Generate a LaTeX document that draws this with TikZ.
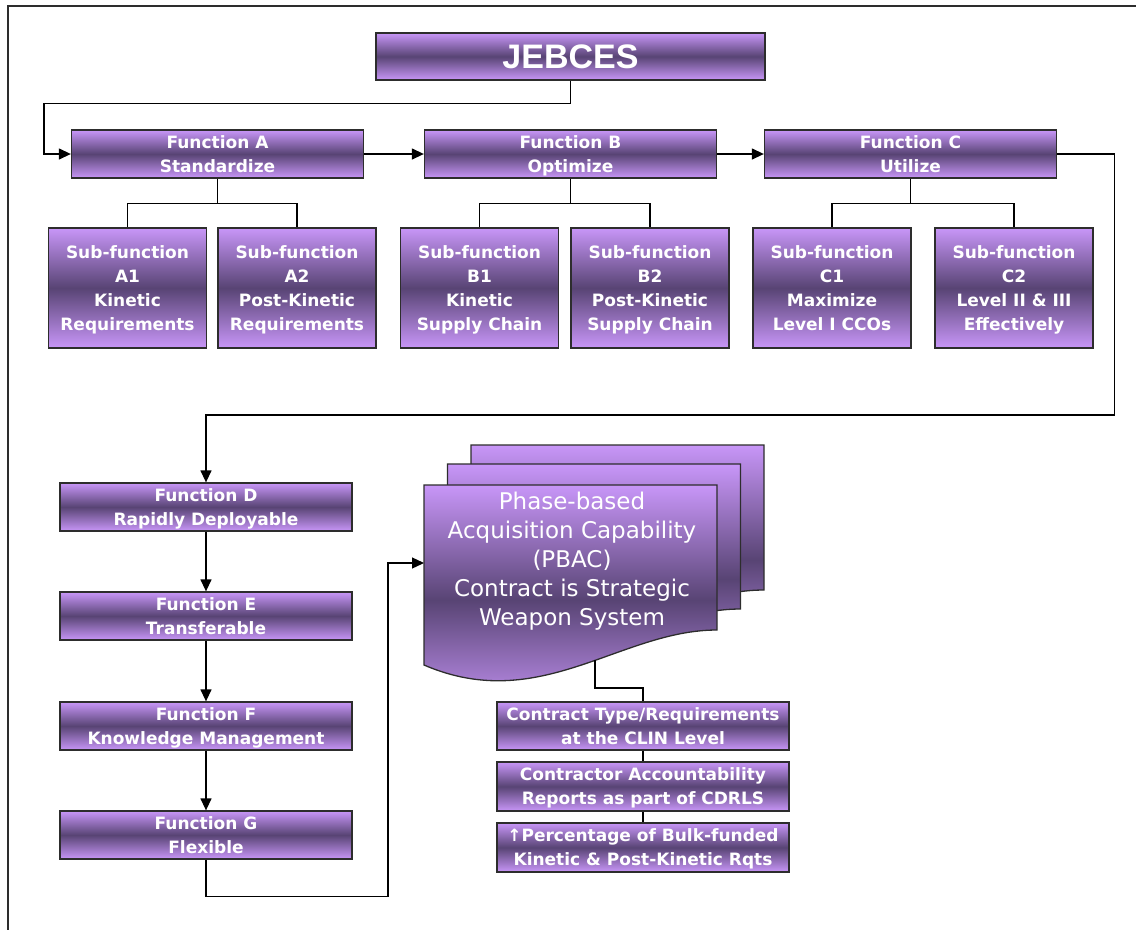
\documentclass[tikz,border=0pt]{standalone}
\usepackage{fontspec}
\newfontfamily\boxfont{DejaVu Sans}
\newfontfamily\headfont{Liberation Sans}
\usetikzlibrary{arrows.meta}
\definecolor{lav}{RGB}{200,150,248}
\definecolor{plum}{RGB}{88,68,116}
\definecolor{edge}{RGB}{45,45,45}

\begin{document}
\begin{tikzpicture}[x=1pt,y=-1pt,
  purplefill/.style={top color=lav,bottom color=lav,middle color=plum},
  fbox/.style={draw=edge,line width=1.3pt,purplefill,rectangle,inner sep=0pt,
    align=center,text=white,text depth=0pt,
    font=\boxfont\bfseries\fontsize{17}{24}\selectfont},
  funcbox/.style={fbox,minimum width=292pt,minimum height=48pt},
  subbox/.style={fbox,minimum width=158pt,minimum height=120pt},
  itembox/.style={fbox,minimum width=292pt,minimum height=48pt},
  titlebox/.style={fbox,minimum width=389pt,minimum height=47pt,
    font=\headfont\bfseries\fontsize{34}{40}\selectfont},
  link/.style={draw=black,line width=1.3pt},
  flow/.style={link,-{Triangle[length=12pt,width=11pt]}},
  docshape/.style={draw=edge,line width=1.3pt,purplefill}
]
\useasboundingbox (0,0) rectangle (1136,930);

% outer frame (top and left edges)
\draw[edge,line width=1.3pt] (1136,6) -- (8,6) -- (8,930);

% title
\node[titlebox] (jeb) at (570.5,56.5) {JEBCES};

% main functions
\node[funcbox] (fa) at (217.5,154) {Function A\\Standardize};
\node[funcbox] (fb) at (570.5,154) {Function B\\Optimize};
\node[funcbox] (fc) at (910.5,154) {Function C\\Utilize};

% sub-functions
\node[subbox] (a1) at (127.5,288) {Sub-function\\A1\\Kinetic\\Requirements};
\node[subbox] (a2) at (297,288) {Sub-function\\A2\\Post-Kinetic\\Requirements};
\node[subbox] (b1) at (479.5,288) {Sub-function\\B1\\Kinetic\\Supply Chain};
\node[subbox] (b2) at (650,288) {Sub-function\\B2\\Post-Kinetic\\Supply Chain};
\node[subbox] (c1) at (832,288) {Sub-function\\C1\\Maximize\\Level I CCOs};
\node[subbox] (c2) at (1014,288) {Sub-function\\C2\\Level II \& III\\Effectively};

% lower function column
\node[funcbox] (fd) at (206,507) {Function D\\Rapidly Deployable};
\node[funcbox] (fe) at (206,616) {Function E\\Transferable};
\node[funcbox] (ff) at (206,726) {Function F\\Knowledge Management};
\node[funcbox] (fg) at (206,835) {Function G\\Flexible};

% stacked document: PBAC
\foreach \dx/\dy in {47/-40,23.5/-21,0/0}{
  \begin{scope}[shift={(\dx,\dy)}]
    \path[docshape] (424,485) -- (717,485) -- (717,630)
      .. controls (620,630) and (540,715) .. (424,665) -- cycle;
  \end{scope}
}
\node[text=white,align=center,font=\boxfont\fontsize{23}{29}\selectfont]
  (pbac) at (572,561) {Phase-based\\Acquisition Capability\\(PBAC)\\Contract is Strategic\\Weapon System};
\coordinate (pbacin) at (424,563);
\coordinate (pbacout) at (595,660);

% contract items
\node[itembox] (k1) at (643,726) {Contract Type/Requirements\\at the CLIN Level};
\node[itembox,minimum height=49pt] (k2) at (643,786.5) {Contractor Accountability\\Reports as part of CDRLS};
\node[itembox,minimum height=49pt] (k3) at (643,847.5) {↑Percentage of Bulk-funded\\Kinetic \& Post-Kinetic Rqts};

% connectors: top row
\draw[flow] (jeb.south) -- ++(0,23) -| ([xshift=-27pt]fa.west) -- (fa.west);
\draw[flow] (fa.east) -- (fb.west);
\draw[flow] (fb.east) -- (fc.west);
\draw[flow] (fc.east) -- ++(57,0) -- ++(0,261) -| (fd.north);

% connectors: sub-function trees
\draw[link] (fa.south) -- ++(0,25) -| (a1.north);
\draw[link] (fa.south) -- ++(0,25) -| (a2.north);
\draw[link] (fb.south) -- ++(0,25) -| (b1.north);
\draw[link] (fb.south) -- ++(0,25) -| (b2.north);
\draw[link] (fc.south) -- ++(0,25) -| (c1.north);
\draw[link] (fc.south) -- ++(0,25) -| (c2.north);

% connectors: lower column
\draw[flow] (fd.south) -- (fe.north);
\draw[flow] (fe.south) -- (ff.north);
\draw[flow] (ff.south) -- (fg.north);
\draw[flow] (fg.south) -- ++(0,37) -| ([xshift=-36pt]pbacin) -- (pbacin);

% connectors: PBAC to contract items
\draw[link] (pbacout) -- ++(0,28) -| (k1.north);
\draw[link] (k1.south) -- (k2.north);
\draw[link] (k2.south) -- (k3.north);
\end{tikzpicture}
\end{document}
